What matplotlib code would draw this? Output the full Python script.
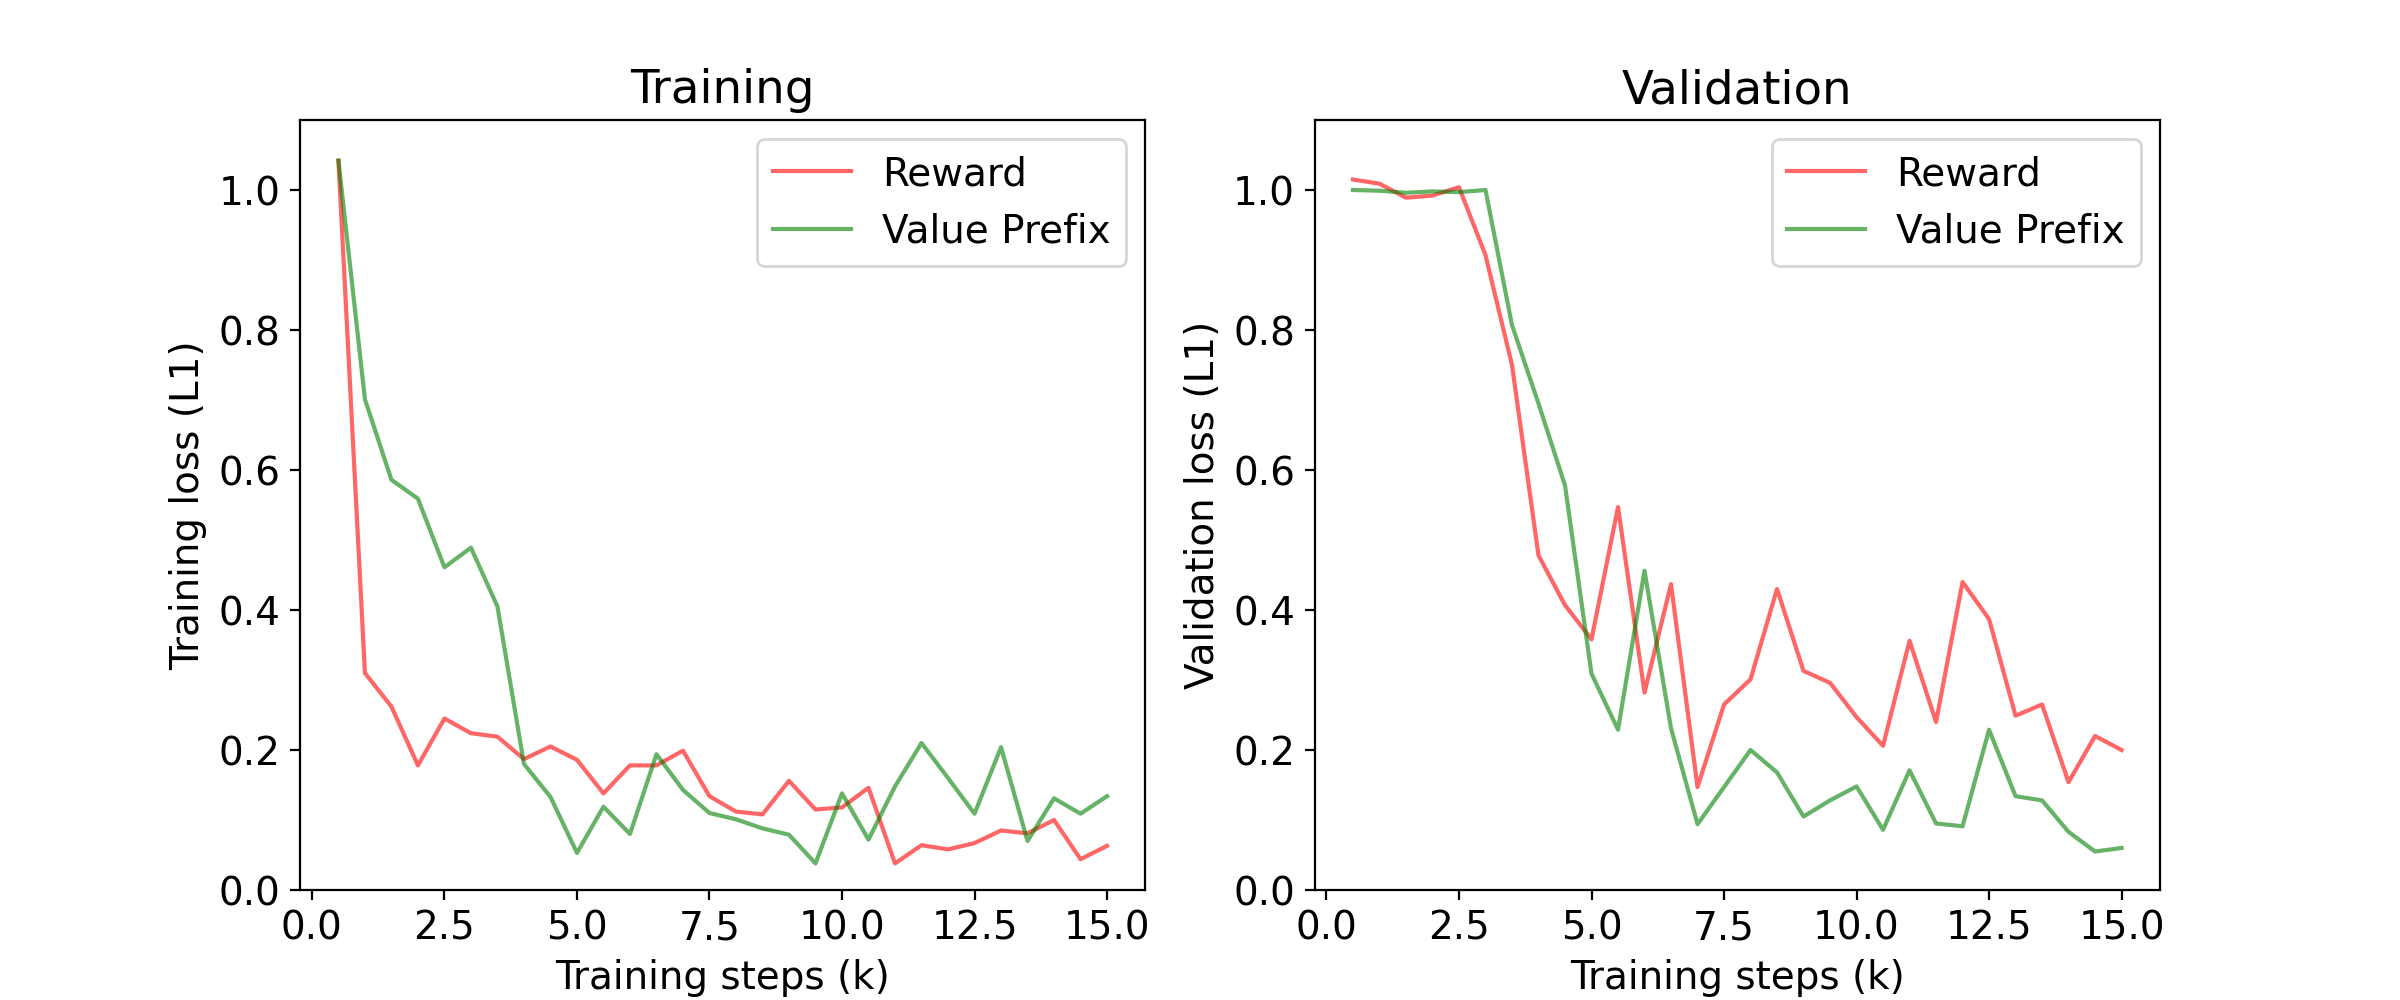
import matplotlib
matplotlib.use("Agg")
import matplotlib.pyplot as plt
import numpy as np

steps = [0.5, 1.0, 1.5, 2.0, 2.5, 3.0, 3.5, 4.0, 4.5, 5.0,
         5.5, 6.0, 6.5, 7.0, 7.5, 8.0, 8.5, 9.0, 9.5, 10.0,
         10.5, 11.0, 11.5, 12.0, 12.5, 13.0, 13.5, 14.0, 14.5, 15.0]

train_reward = [1.042, 0.310, 0.262, 0.178, 0.245, 0.224, 0.219, 0.187, 0.205, 0.186,
                0.138, 0.178, 0.178, 0.199, 0.134, 0.112, 0.108, 0.156, 0.115, 0.118,
                0.146, 0.038, 0.064, 0.058, 0.067, 0.085, 0.081, 0.100, 0.044, 0.063]
train_vp = [1.042, 0.701, 0.586, 0.559, 0.461, 0.489, 0.405, 0.180, 0.133, 0.053,
            0.119, 0.080, 0.194, 0.143, 0.110, 0.101, 0.088, 0.079, 0.038, 0.138,
            0.072, 0.148, 0.210, 0.160, 0.109, 0.204, 0.070, 0.131, 0.109, 0.134]

val_reward = [1.015, 1.009, 0.989, 0.992, 1.004, 0.907, 0.750, 0.478, 0.407, 0.358,
              0.547, 0.282, 0.437, 0.147, 0.265, 0.301, 0.430, 0.313, 0.296, 0.247,
              0.206, 0.356, 0.240, 0.440, 0.387, 0.249, 0.265, 0.154, 0.220, 0.200]
val_vp = [1.000, 0.999, 0.996, 0.998, 0.997, 1.000, 0.807, 0.695, 0.578, 0.309,
          0.229, 0.456, 0.231, 0.094, 0.147, 0.200, 0.168, 0.105, 0.128, 0.148,
          0.086, 0.171, 0.095, 0.091, 0.229, 0.134, 0.128, 0.083, 0.055, 0.060]

series_labels = ["Reward", "Value Prefix"]
titles = ["Training", "Validation"]
ylabels = ["Training loss (L1)", "Validation loss (L1)"]
xlabel = "Training steps (k)"

plt.rcParams['font.size'] = 14

fig, axes = plt.subplots(1, 2, figsize=(12, 5), dpi=200)
data = [(train_reward, train_vp), (val_reward, val_vp)]
for ax, (r, v), t, yl in zip(axes, data, titles, ylabels):
    ax.plot(steps, r, color="red", alpha=0.6, label=series_labels[0])
    ax.plot(steps, v, color="green", alpha=0.6, label=series_labels[1])
    ax.set_ylim(0, 1.1)
    ax.set_title(t)
    ax.set_xlabel(xlabel)
    ax.set_ylabel(yl)
    ax.legend(loc="upper right")

fig.savefig("out.png", dpi=200)
